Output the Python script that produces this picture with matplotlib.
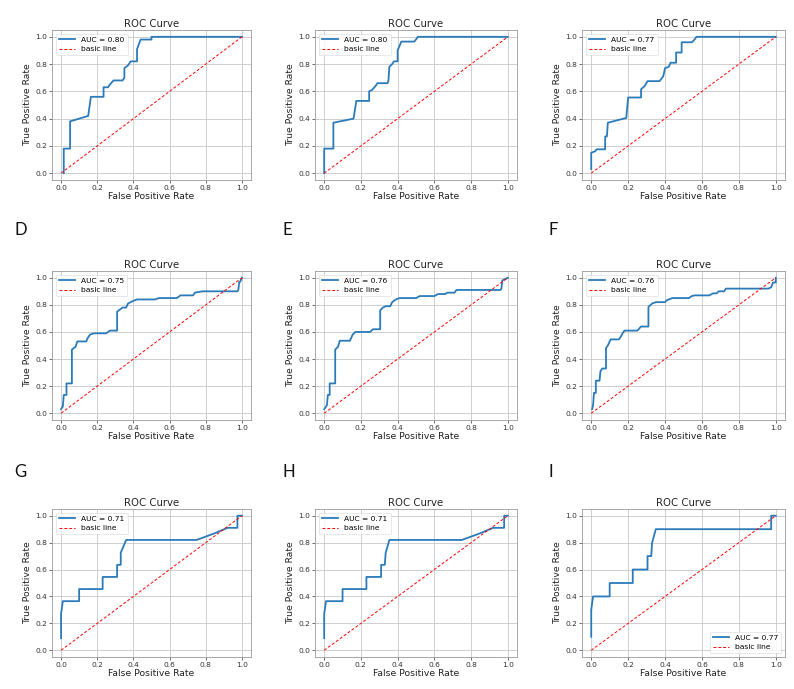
import matplotlib
matplotlib.use("Agg")
import matplotlib.pyplot as plt

# ---------------- data ----------------
panel_letters = ["A", "B", "C", "D", "E", "F", "G", "H", "I"]
auc_values = [0.80, 0.80, 0.77, 0.75, 0.76, 0.76, 0.71, 0.71, 0.77]

fpr_A = [0.015, 0.015, 0.05, 0.05, 0.15, 0.165, 0.235, 0.235, 0.26, 0.27, 0.29, 0.34, 0.35, 0.35, 0.37, 0.385, 0.42, 0.42, 0.44, 0.50, 0.50, 1.0]
tpr_A = [0.0, 0.18, 0.18, 0.38, 0.42, 0.56, 0.56, 0.63, 0.63, 0.65, 0.68, 0.68, 0.70, 0.77, 0.79, 0.82, 0.82, 0.91, 0.98, 0.98, 1.0, 1.0]

fpr_B = [0.0, 0.0, 0.05, 0.05, 0.16, 0.175, 0.245, 0.245, 0.26, 0.28, 0.29, 0.345, 0.35, 0.355, 0.37, 0.38, 0.40, 0.40, 0.42, 0.49, 0.50, 0.51, 1.0]
tpr_B = [0.0, 0.18, 0.18, 0.37, 0.40, 0.53, 0.53, 0.60, 0.61, 0.64, 0.66, 0.66, 0.68, 0.78, 0.80, 0.82, 0.82, 0.90, 0.965, 0.965, 0.98, 1.0, 1.0]

fpr_C = [0.0, 0.0, 0.02, 0.03, 0.075, 0.076, 0.085, 0.09, 0.19, 0.20, 0.27, 0.27, 0.29, 0.305, 0.37, 0.39, 0.40, 0.42, 0.43, 0.46, 0.46, 0.49, 0.49, 0.545, 0.56, 0.57, 1.0]
tpr_C = [0.03, 0.15, 0.16, 0.175, 0.175, 0.27, 0.27, 0.37, 0.405, 0.555, 0.555, 0.615, 0.64, 0.675, 0.675, 0.71, 0.77, 0.78, 0.81, 0.81, 0.885, 0.885, 0.96, 0.96, 0.98, 1.0, 1.0]

fpr_D = [0.0, 0.01, 0.015, 0.03, 0.03, 0.06, 0.06, 0.08, 0.09, 0.14, 0.145, 0.16, 0.18, 0.25, 0.27, 0.31, 0.31, 0.33, 0.34, 0.36, 0.37, 0.40, 0.42, 0.52, 0.54, 0.64, 0.66, 0.73, 0.74, 0.78, 0.975, 0.98, 0.985, 0.99, 1.0]
tpr_D = [0.03, 0.05, 0.135, 0.135, 0.22, 0.22, 0.47, 0.49, 0.53, 0.53, 0.55, 0.58, 0.59, 0.59, 0.61, 0.61, 0.75, 0.77, 0.78, 0.78, 0.81, 0.83, 0.84, 0.84, 0.85, 0.85, 0.87, 0.87, 0.89, 0.90, 0.90, 0.91, 0.97, 0.97, 1.0]

fpr_E = [0.0, 0.015, 0.02, 0.03, 0.03, 0.06, 0.06, 0.075, 0.085, 0.14, 0.145, 0.155, 0.17, 0.25, 0.265, 0.305, 0.305, 0.32, 0.335, 0.36, 0.37, 0.39, 0.41, 0.50, 0.52, 0.60, 0.62, 0.66, 0.67, 0.71, 0.72, 0.96, 0.965, 0.97, 0.985, 1.0]
tpr_E = [0.03, 0.06, 0.135, 0.135, 0.22, 0.22, 0.47, 0.49, 0.535, 0.535, 0.55, 0.58, 0.60, 0.60, 0.62, 0.62, 0.76, 0.78, 0.79, 0.79, 0.82, 0.84, 0.85, 0.85, 0.865, 0.865, 0.88, 0.88, 0.89, 0.89, 0.91, 0.91, 0.92, 0.98, 0.99, 1.0]

fpr_F = [0.005, 0.01, 0.015, 0.025, 0.025, 0.045, 0.05, 0.06, 0.08, 0.08, 0.09, 0.105, 0.15, 0.16, 0.17, 0.18, 0.25, 0.26, 0.27, 0.31, 0.31, 0.33, 0.35, 0.40, 0.41, 0.44, 0.53, 0.545, 0.56, 0.64, 0.66, 0.68, 0.69, 0.72, 0.73, 0.96, 0.975, 0.985, 1.0, 1.0]
tpr_F = [0.03, 0.06, 0.15, 0.15, 0.24, 0.24, 0.31, 0.33, 0.33, 0.48, 0.50, 0.545, 0.545, 0.565, 0.59, 0.61, 0.61, 0.625, 0.64, 0.64, 0.785, 0.81, 0.82, 0.82, 0.835, 0.85, 0.85, 0.865, 0.87, 0.87, 0.885, 0.885, 0.90, 0.90, 0.92, 0.92, 0.93, 0.965, 0.965, 1.0]

fpr_G = [0.0, 0.0, 0.01, 0.10, 0.10, 0.23, 0.23, 0.31, 0.31, 0.33, 0.33, 0.36, 0.75, 0.85, 0.92, 0.975, 0.975, 1.0]
tpr_G = [0.09, 0.27, 0.365, 0.365, 0.455, 0.455, 0.545, 0.545, 0.635, 0.635, 0.725, 0.82, 0.82, 0.87, 0.91, 0.91, 1.0, 1.0]

fpr_H = [0.0, 0.0, 0.01, 0.10, 0.10, 0.23, 0.23, 0.31, 0.31, 0.33, 0.335, 0.355, 0.75, 0.85, 0.92, 0.98, 0.98, 1.0]
tpr_H = [0.09, 0.27, 0.365, 0.365, 0.455, 0.455, 0.545, 0.545, 0.635, 0.635, 0.725, 0.82, 0.82, 0.87, 0.91, 0.91, 1.0, 1.0]

fpr_I = [0.0, 0.0, 0.01, 0.10, 0.10, 0.225, 0.225, 0.305, 0.305, 0.325, 0.33, 0.35, 0.975, 0.975, 1.0]
tpr_I = [0.10, 0.30, 0.40, 0.40, 0.50, 0.50, 0.60, 0.60, 0.70, 0.70, 0.80, 0.90, 0.90, 1.0, 1.0]

fpr_list = [fpr_A, fpr_B, fpr_C, fpr_D, fpr_E, fpr_F, fpr_G, fpr_H, fpr_I]
tpr_list = [tpr_A, tpr_B, tpr_C, tpr_D, tpr_E, tpr_F, tpr_G, tpr_H, tpr_I]
legend_locs = ["upper left"] * 8 + ["lower right"]

diag_x = [0, 1]
diag_y = [0, 1]
xticks = [0.0, 0.2, 0.4, 0.6, 0.8, 1.0]
yticks = [0.0, 0.2, 0.4, 0.6, 0.8, 1.0]

# ---------------- layout ----------------
W, H = 794, 689
fig = plt.figure(figsize=(W / 100, H / 100), dpi=100)

col_lr = [(52, 251), (315, 517), (582, 785)]
row_tb = [(30, 180), (271, 420), (509, 657)]
letter_pos = [(14, 3), (282, 3), (548, 3),
              (14, 238), (282, 238), (548, 238),
              (14, 480), (282, 480), (548, 480)]

blue = "#2b7bba"
for i in range(9):
    r, c = divmod(i, 3)
    l, rr = col_lr[c]
    t, b = row_tb[r]
    ax = fig.add_axes([l / W, 1 - b / H, (rr - l) / W, (b - t) / H])
    ax.plot(fpr_list[i], tpr_list[i], color=blue, lw=1.3,
            label=f"AUC = {auc_values[i]:.2f}")
    ax.plot(diag_x, diag_y, color="red", lw=0.7, ls=(0, (3, 2)), label="basic line")
    ax.set_xlim(-0.05, 1.05)
    ax.set_ylim(-0.05, 1.05)
    ax.set_xticks(xticks)
    ax.set_yticks(yticks)
    ax.tick_params(labelsize=5.4, length=2, width=0.5, pad=1.5, colors="#333333")
    ax.grid(True, color="#c8c8c8", lw=0.6)
    ax.set_axisbelow(True)
    for s in ax.spines.values():
        s.set_color("#9a9a9a")
        s.set_linewidth(0.6)
    ax.set_title("ROC Curve", fontsize=7.3, pad=2, color="#222222")
    ax.set_xlabel("False Positive Rate", fontsize=6.7, labelpad=1, color="#222222")
    ax.set_ylabel("True Positive Rate", fontsize=6.7, labelpad=2, color="#222222")
    leg = ax.legend(loc=legend_locs[i], fontsize=5.4, frameon=True,
                    borderpad=0.4, handlelength=2.2, labelspacing=0.4)
    leg.get_frame().set_linewidth(0.4)

    lx, ly = letter_pos[i]
    fig.text(lx / W, 1 - ly / H, panel_letters[i], fontsize=12,
             family=["Lato", "DejaVu Sans"], fontweight="normal",
             ha="left", va="bottom", color="#111111")

fig.savefig("out.png", dpi=100)
